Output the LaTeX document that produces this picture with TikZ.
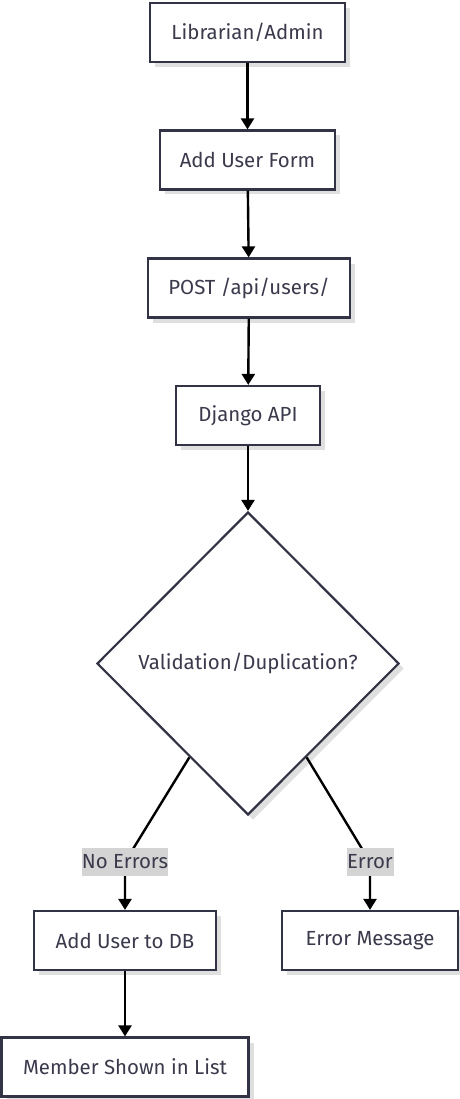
\documentclass[tikz,border=0pt]{standalone}
\usepackage{fontspec}
\setmainfont{Fira Sans}
\usepackage{xcolor}
\usepackage{tikz}
\usetikzlibrary{positioning,shapes.geometric,arrows.meta,shadows}

\definecolor{boxline}{HTML}{333346}
\definecolor{boxtext}{HTML}{3A3A4C}
\definecolor{lblfill}{HTML}{D4D4D4}

\begin{document}
\begin{tikzpicture}[
		x=1pt, y=-1pt,
		box/.style={draw=boxline, line width=2.2pt, fill=white, minimum height=59pt, inner sep=0pt,
			text=boxtext, font=\fontsize{20.4}{24}\selectfont,
			drop shadow={shadow xshift=5pt, shadow yshift=-5pt, fill=gray!25, opacity=1}},
		dec/.style={box, diamond, aspect=1, minimum width=302pt, minimum height=303pt},
		elbl/.style={fill=lblfill, inner sep=0pt, minimum height=28pt, text=boxtext, font=\fontsize{20.4}{24}\selectfont},
		arr/.style={-{Triangle[length=11pt, width=13pt]}, line width=2.4pt, black}
		]
		\useasboundingbox (0,0) rectangle (459,1099);
		
		% ==========================================
		% main chain
		% ==========================================
		\node[box, minimum width=195pt] (admin) at (247.5, 32.5) {Librarian/Admin};
		\node[box, minimum width=175pt] (form) at (247.5, 160) {Add User Form};
		\node[box, minimum width=202pt] (post) at (249, 288) {POST /api/users/};
		\node[box, minimum width=144pt] (api) at (248, 415.5) {Django API};
		\node[dec] (check) at (248, 663.5) {Validation/Duplication?};
		
		\draw[arr] (admin) -- (form);
		\draw[arr] (form) -- (post);
		\draw[arr] (post) -- (api);
		\draw[arr] (api) -- (check);
		
		% ==========================================
		% branches
		% ==========================================
		\node[box, minimum width=182pt] (adddb) at (125, 940.5) {Add User to DB};
		\node[box, minimum width=176pt] (errmsg) at (370, 940.5) {Error Message};
		\node[box, minimum width=247pt] (shown) at (125, 1067) {Member Shown in List};
		
		\coordinate (noerr) at (125, 862);
		\coordinate (err) at (370, 862);
		\draw[arr] (check.-122) -- (noerr) -- (adddb);
		\draw[arr] (check.-58) -- (err) -- (errmsg);
		\draw[arr] (adddb) -- (shown);
		
		% -- labels on the branches --
		\node[elbl, minimum width=85pt] (lblno) at (noerr) {No Errors};
		\node[elbl, minimum width=47pt] (lblerr) at (err) {Error};
		
\end{tikzpicture}
\end{document}
